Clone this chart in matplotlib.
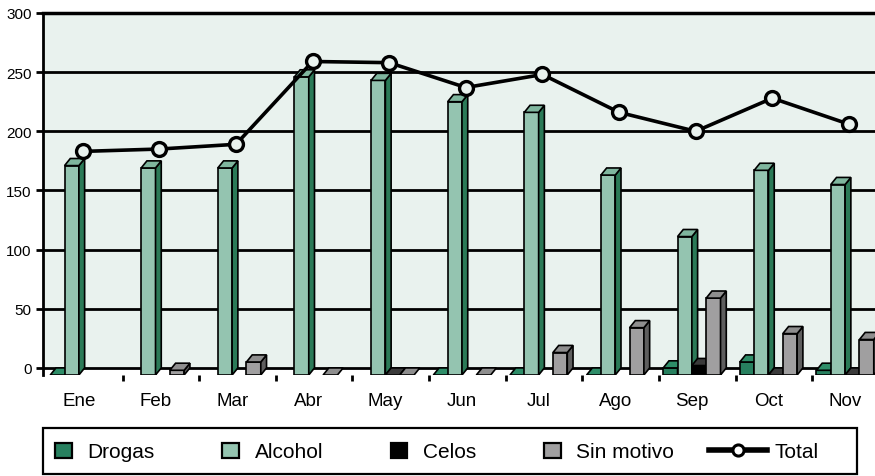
import numpy as np
import matplotlib
matplotlib.use("Agg")
import matplotlib.pyplot as plt
from matplotlib.patches import Polygon, Rectangle
from matplotlib.lines import Line2D
from matplotlib.legend_handler import HandlerPatch, HandlerLine2D

plt.rcParams['font.family'] = ['Liberation Sans', 'DejaVu Sans']

nan = np.nan
months = ['Ene', 'Feb', 'Mar', 'Abr', 'May', 'Jun', 'Jul', 'Ago', 'Sep', 'Oct', 'Nov']
drogas = [0, nan, nan, nan, nan, 0, 0, 0, 6, 11, 4]
alcohol = [177, 175, 175, 252, 249, 231, 222, 169, 117, 173, 161]
celos = [nan, nan, nan, nan, 0, nan, nan, nan, 8, 0, 0]
sin_motivo = [nan, 4, 11, 0, 0, 0, 19, 40, 65, 35, 30]
total = [183, 185, 189, 259, 258, 237, 248, 216, 200, 228, 206]

series = [
    ('Drogas', drogas, '#27805F', '#2E8D68', '#17543D'),
    ('Alcohol', alcohol, '#94C4B0', '#7FB69E', '#2B7A57'),
    ('Celos', celos, '#000000', '#3a3a3a', '#000000'),
    ('Sin motivo', sin_motivo, '#A09FA0', '#8E8E8E', '#5E5E5E'),
]

floor = -6
w = 0.187
dx, dy = 0.075, 6

fig = plt.figure(figsize=(8.75, 4.77), dpi=100)
ax = fig.add_axes([0.049, 0.2117, 0.951, 0.759])
ax.set_facecolor('white')
ax.axhspan(0, 300, color='#E9F2EE', zorder=0)

x = np.arange(len(months))
z = 3
for i in range(len(months)):
    for k, (name, vals, front, top, side) in enumerate(series):
        h = vals[i]
        if np.isnan(h):
            continue
        x0 = i + (k - 2) * w
        x1 = x0 + w
        hf = h - dy  # front top edge
        if h > 0:
            ax.bar(x0, hf - floor, width=w, bottom=floor, align='edge', color=front,
                   edgecolor='black', linewidth=1.2, zorder=z)
            ax.add_patch(Polygon([(x1, floor), (x1 + dx, floor + dy), (x1 + dx, h), (x1, hf)],
                                 closed=True, facecolor=side, edgecolor='black', linewidth=1.2, zorder=z))
        ax.add_patch(Polygon([(x0, hf), (x0 + dx, h), (x1 + dx, h), (x1, hf)],
                             closed=True, facecolor=top, edgecolor='black', linewidth=1.2, zorder=z))
        z += 1

ax.plot(x + 0.05, total, color='black', lw=2.6, marker='o', ms=10,
        mfc='#E9F2EE', mec='black', mew=2.4, zorder=z + 1)

ax.set_xlim(-0.47, 10.39)
ax.set_ylim(floor, 300)
ax.set_yticks(np.arange(0, 301, 50))
ax.yaxis.grid(True, color='black', lw=2)
for gl in ax.get_ygridlines():
    gl.set_zorder(1)

ax.set_xticks(x)
ax.set_xticklabels(months, fontsize=13.5)
ax.set_xticks(x[:-1] + 0.57, minor=True)
ax.tick_params(axis='x', which='major', length=0, pad=12)
ax.tick_params(axis='x', which='minor', length=4, width=2, direction='out')
ax.tick_params(axis='y', length=5, width=2, labelsize=11, pad=3)

for s in ['top', 'right', 'bottom']:
    ax.spines[s].set_visible(False)
ax.spines['left'].set_linewidth(2)
ax.axhline(300, color='black', lw=2.5, zorder=2, clip_on=False)


class SquareHandler(HandlerPatch):
    def create_artists(self, legend, orig_handle, xdescent, ydescent, width, height, fontsize, trans):
        r = Rectangle((-xdescent, -ydescent - 0.05 * height), width, height * 1.05,
                      facecolor=orig_handle.get_facecolor(), edgecolor='black', lw=1.6, transform=trans)
        return [r]


class LongLineHandler(HandlerLine2D):
    def create_artists(self, legend, orig_handle, xdescent, ydescent, width, height, fontsize, trans):
        x0 = -xdescent - 2.0 * width
        x1 = -xdescent + 1.5 * width
        ym = height / 2 - ydescent
        ln = Line2D([x0, x1], [ym, ym], color='black', lw=4, transform=trans)
        mk = Line2D([(x0 + x1) / 2], [ym], marker='o', ms=8, mfc='white', mec='black',
                    mew=2.2, ls='', transform=trans)
        return [ln, mk]


handles = [Rectangle((0, 0), 1, 1, facecolor=s[2]) for s in series]
handles.append(Line2D([], [], color='black'))
labels = [s[0] for s in series] + ['Total']
hm = {h: SquareHandler() for h in handles[:4]}
hm[handles[4]] = LongLineHandler()
leg = fig.legend(handles, labels, handler_map=hm, loc='center left', ncol=5,
                 bbox_to_anchor=(55 / 875, 1 - 453 / 477), fontsize=15, handlelength=0.8,
                 handleheight=0.72, handletextpad=0.75, columnspacing=3.25,
                 borderpad=0, borderaxespad=0, frameon=False)

# legend box
fig.patches.append(Rectangle((43 / 875, 1 - 475 / 477), 814 / 875, 46 / 477,
                             transform=fig.transFigure, fill=False, edgecolor='black', lw=1.6))

fig.savefig('out.png', dpi=100)
